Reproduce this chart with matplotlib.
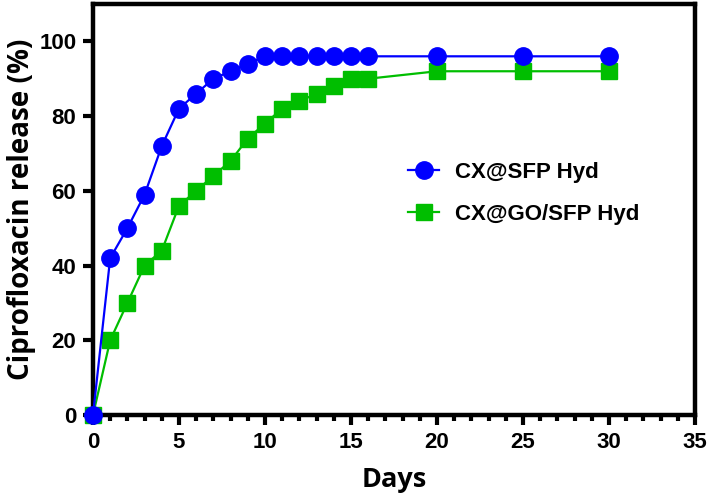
import matplotlib
matplotlib.use("Agg")
import matplotlib.pyplot as plt
from matplotlib.ticker import MultipleLocator

days = [0, 1, 2, 3, 4, 5, 6, 7, 8, 9, 10, 11, 12, 13, 14, 15, 16, 20, 25, 30]
cx_sfp = [0, 42, 50, 59, 72, 82, 86, 90, 92, 94, 96, 96, 96, 96, 96, 96, 96, 96, 96, 96]
cx_go_sfp = [0, 20, 30, 40, 44, 56, 60, 64, 68, 74, 78, 82, 84, 86, 88, 90, 90, 92, 92, 92]
labels = ["CX@SFP Hyd", "CX@GO/SFP Hyd"]
xticks = [0, 5, 10, 15, 20, 25, 30, 35]
yticks = [0, 20, 40, 60, 80, 100]

W, H = 709, 495
fig = plt.figure(figsize=(W / 100, H / 100), dpi=100)
ax = fig.add_axes([93 / W, 1 - 415 / H, (695 - 93) / W, (415 - 4) / H])

green = "#00BE00"
blue = "#0000FF"
ax.plot(days, cx_go_sfp, color=green, lw=1.6, marker="s", ms=11.5,
        label=labels[1], clip_on=False, zorder=3)
ax.plot(days, cx_sfp, color=blue, lw=1.6, marker="o", ms=12.5,
        label=labels[0], clip_on=False, zorder=4)

ax.set_xlim(0, 35)
ax.set_ylim(0, 110)
ax.set_xticks(xticks)
ax.set_yticks(yticks)
ax.xaxis.set_minor_locator(MultipleLocator(1))

tickfont = dict(family="Liberation Sans", weight="bold", size=16)
for lab in ax.get_xticklabels() + ax.get_yticklabels():
    lab.set_fontproperties(matplotlib.font_manager.FontProperties(**tickfont))

for s in ax.spines.values():
    s.set_linewidth(3.2)
ax.tick_params(axis="both", which="major", length=7, width=3, direction="out", pad=5)
ax.tick_params(axis="x", which="minor", length=4.5, width=3, direction="out")

ax.set_xlabel("Days", fontfamily="Open Sans", fontweight="bold", fontsize=19.5, labelpad=10)
ax.set_ylabel("Ciprofloxacin release (%)", fontfamily="Open Sans", fontweight="bold",
              fontsize=20, labelpad=2)

h, l = ax.get_legend_handles_labels()
leg = ax.legend([h[1], h[0]], [l[1], l[0]], loc="upper left",
                bbox_to_anchor=(408 / W, 1 - 162 / H), bbox_transform=fig.transFigure,
                frameon=False, borderpad=0, borderaxespad=0, handlelength=1.4,
                handletextpad=0.7, labelspacing=0.95,
                prop=dict(family="Liberation Sans", weight="bold", size=16))

fig.savefig("out.png", dpi=100)
